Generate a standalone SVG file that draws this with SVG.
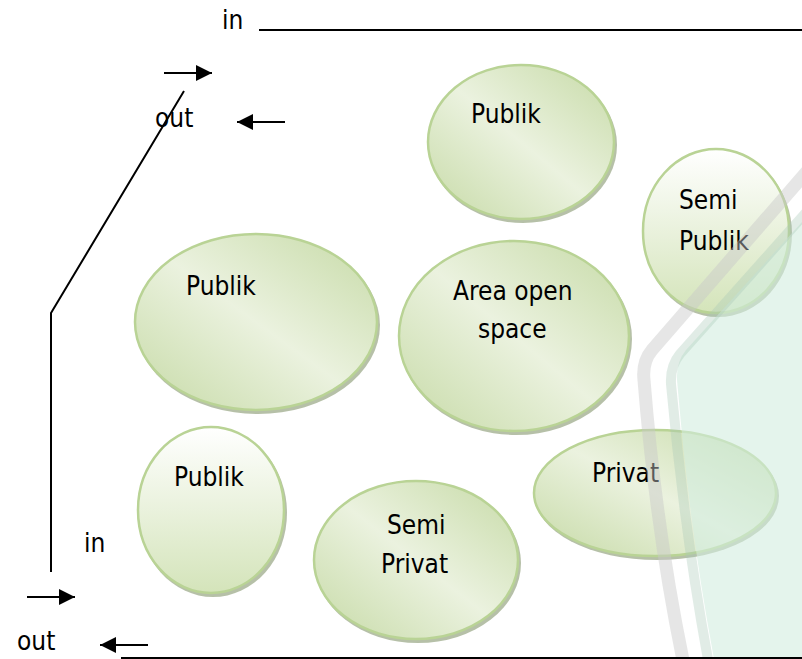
<svg xmlns="http://www.w3.org/2000/svg" width="802" height="659" viewBox="0 0 802 659">
<style>
.t{font-family:"DejaVu Sans Condensed","DejaVu Sans",sans-serif;font-size:26px;fill:#000}
.ln{stroke:#000;stroke-width:2;fill:none}
.sh{fill:#9dab8b;opacity:.75}
.el{stroke:#b9d395;stroke-width:2.5}
</style>
<defs>
<linearGradient id="gd" x1="1" y1="0" x2="0" y2="1">
<stop offset="0" stop-color="#c6daa6"/>
<stop offset="0.5" stop-color="#ebf2df"/>
<stop offset="1" stop-color="#c6daa6"/>
</linearGradient>
<linearGradient id="gv" x1="0" y1="0" x2="0" y2="1">
<stop offset="0" stop-color="#ffffff"/>
<stop offset="1" stop-color="#d4e4ba"/>
</linearGradient>
<marker id="ah" markerUnits="userSpaceOnUse" markerWidth="17" markerHeight="17" refX="16" refY="8" orient="auto">
<path d="M0,0 L16,8 L0,16 Z" fill="#000"/>
</marker>
</defs>
<rect width="802" height="659" fill="#fff"/>
<g id="node-publik-top">
<ellipse class="sh" cx="523" cy="145" rx="94" ry="78"/>
<ellipse class="el" cx="521" cy="142" rx="93" ry="77" fill="url(#gd)"/>
<text class="t" x="471" y="123">Publik</text>
</g>
<g id="node-semi-publik">
<ellipse class="sh" cx="718" cy="234" rx="74" ry="83"/>
<ellipse class="el" cx="716" cy="231" rx="73" ry="82" fill="url(#gv)"/>
<text class="t" x="679" y="209">Semi</text>
<text class="t" x="679" y="250">Publik</text>
</g>
<g id="node-publik-left">
<ellipse class="sh" cx="258" cy="325" rx="122" ry="89"/>
<ellipse class="el" cx="256" cy="322" rx="121" ry="88" fill="url(#gd)"/>
<text class="t" x="186" y="295">Publik</text>
</g>
<g id="node-area-open-space">
<ellipse class="sh" cx="516" cy="339" rx="116" ry="96"/>
<ellipse class="el" cx="514" cy="336" rx="115" ry="95" fill="url(#gd)"/>
<text class="t" x="453" y="300">Area open</text>
<text class="t" x="478" y="338">space</text>
</g>
<g id="node-publik-small">
<ellipse class="sh" cx="213" cy="513" rx="74" ry="84"/>
<ellipse class="el" cx="211" cy="510" rx="73" ry="83" fill="url(#gv)"/>
<text class="t" x="174" y="486">Publik</text>
</g>
<g id="node-semi-privat">
<ellipse class="sh" cx="418" cy="563" rx="103" ry="80"/>
<ellipse class="el" cx="416" cy="560" rx="102" ry="79" fill="url(#gd)"/>
<text class="t" x="387" y="534">Semi</text>
<text class="t" x="381" y="573">Privat</text>
</g>
<g id="node-privat">
<ellipse class="sh" cx="657" cy="496" rx="122" ry="64"/>
<ellipse class="el" cx="655" cy="493" rx="121" ry="63" fill="url(#gd)"/>
<text class="t" x="592" y="482">Privat</text>
</g>
<g id="watermark">
<path d="M802,222 L686,350 Q676,362 677,380 Q688,520 714,659 L802,659 Z" fill="#d2ede0" opacity="0.6"/>
<path d="M810,168 L652,350 Q642,362 644,380 Q656,530 684,665" fill="none" stroke="#c8c8c8" stroke-width="13" opacity="0.45"/>
<path d="M810,208 L680,354 Q670,366 671,384 Q684,530 709,665" fill="none" stroke="#a9c8b8" stroke-width="10" opacity="0.35"/>
</g>
<g id="connectors">
<line class="ln" x1="259" y1="30" x2="802" y2="30"/>
<polyline class="ln" points="184,91 51,313 51,572"/>
<line class="ln" x1="121" y1="658" x2="802" y2="658"/>
<line class="ln" x1="164" y1="73" x2="212" y2="73" marker-end="url(#ah)"/>
<line class="ln" x1="285" y1="122" x2="237" y2="122" marker-end="url(#ah)"/>
<line class="ln" x1="27" y1="597" x2="75" y2="597" marker-end="url(#ah)"/>
<line class="ln" x1="148" y1="645" x2="100" y2="645" marker-end="url(#ah)"/>
</g>
<g id="labels">
<text class="t" x="222" y="29">in</text>
<text class="t" x="155" y="127">out</text>
<text class="t" x="84" y="552">in</text>
<text class="t" x="17" y="650">out</text>
</g>
</svg>
